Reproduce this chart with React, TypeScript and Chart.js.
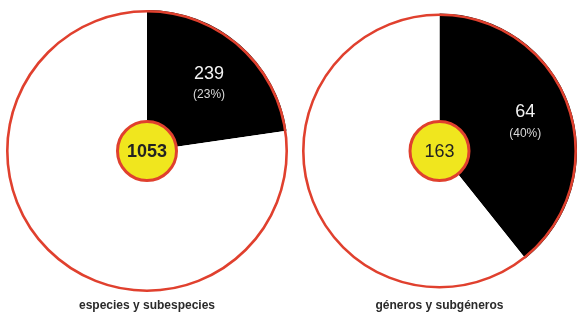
import React, { useEffect, useRef } from "react";
import { Chart, registerables } from "chart.js";

Chart.register(...registerables);

const categories = ["especies y subespecies", "géneros y subgéneros"];
const totals = [1053, 163];
const highlighted = [239, 64];
const percentLabels = ["(23%)", "(40%)"];
const centerBold = [true, false];

const RED = "#e0402e";
const YELLOW = "#f0e61e";

type Cfg = {
  idx: number;
  left: number;
  width: number;
  pad: { left: number; right: number; top: number; bottom: number };
};

function PieChart({ idx, left, width, pad }: Cfg) {
  const ref = useRef<HTMLCanvasElement | null>(null);
  useEffect(() => {
    if (!ref.current) return;
    const deco = {
      id: "deco" + idx,
      afterDatasetsDraw(chart: any) {
        const ctx = chart.ctx;
        const meta = chart.getDatasetMeta(0);
        const arc: any = meta.data[0];
        const cx = arc.x;
        const cy = arc.y;
        const R = arc.outerRadius;
        ctx.save();
        ctx.beginPath();
        ctx.arc(cx, cy, R - 1.3, 0, Math.PI * 2);
        ctx.strokeStyle = RED;
        ctx.lineWidth = 2.6;
        ctx.stroke();
        const r = 29.5;
        ctx.beginPath();
        ctx.arc(cx, cy, r, 0, Math.PI * 2);
        ctx.fillStyle = YELLOW;
        ctx.fill();
        ctx.lineWidth = 3;
        ctx.strokeStyle = RED;
        ctx.stroke();
        ctx.textAlign = "center";
        ctx.textBaseline = "middle";
        ctx.fillStyle = "#222";
        ctx.font = (centerBold[idx] ? "bold " : "") + "18px 'Liberation Sans', Arial, sans-serif";
        ctx.fillText(String(totals[idx]), cx, cy + 1);
        const mid = (arc.startAngle + arc.endAngle) / 2;
        const lr = R * 0.63;
        const lx = cx + Math.cos(mid) * lr + 4;
        const ly = cy + Math.sin(mid) * lr;
        ctx.fillStyle = "#f2f2f2";
        ctx.font = "18px 'Liberation Sans', Arial, sans-serif";
        ctx.fillText(String(highlighted[idx]), lx, ly - 10);
        ctx.fillStyle = "#d8d8d8";
        ctx.font = "12px 'Liberation Sans', Arial, sans-serif";
        ctx.fillText(percentLabels[idx], lx, ly + 11);
        ctx.fillStyle = "#2a2a2a";
        ctx.font = "bold 12px 'Liberation Sans', Arial, sans-serif";
        ctx.fillText(categories[idx], cx, 306);
        ctx.restore();
      },
    };
    const chart = new Chart(ref.current, {
      type: "pie",
      data: {
        labels: [String(highlighted[idx]), "resto"],
        datasets: [
          {
            data: [highlighted[idx], totals[idx] - highlighted[idx]],
            backgroundColor: ["#000000", "#ffffff"],
            borderWidth: 0,
          },
        ],
      },
      options: {
        responsive: false,
        maintainAspectRatio: false,
        animation: false,
        layout: { padding: pad },
        plugins: { legend: { display: false }, tooltip: { enabled: false } },
      },
      plugins: [deco],
    });
    return () => chart.destroy();
  }, []);
  return (
    <canvas
      ref={ref}
      width={width}
      height={317}
      style={{ position: "absolute", left, top: 0, width, height: 317 }}
    />
  );
}

export default function App() {
  useEffect(() => {
    document.body.style.margin = "0";
  }, []);
  return (
    <div style={{ position: "relative", width: 577, height: 317, background: "#fff", overflow: "hidden" }}>
      <PieChart idx={0} left={0} width={294} pad={{ left: 6, right: 6, top: 10, bottom: 25 }} />
      <PieChart idx={1} left={294} width={283} pad={{ left: 8, right: 0, top: 13, bottom: 28 }} />
    </div>
  );
}
